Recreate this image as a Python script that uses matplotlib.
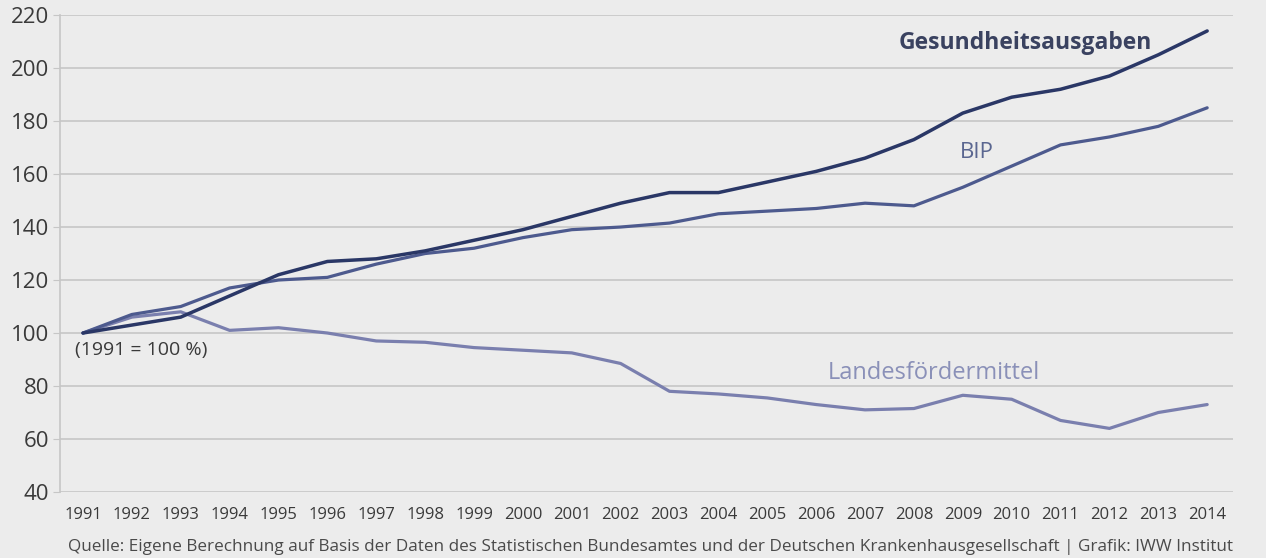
import matplotlib
matplotlib.use('Agg')
import matplotlib.pyplot as plt

years = list(range(1991, 2015))

# index values, 1991 = 100
gesundheit = [100, 103, 106, 114, 122, 127, 128, 131, 135, 139, 144, 149,
              153, 153, 157, 161, 166, 173, 183, 189, 192, 197, 205, 214]
bip = [100, 107, 110, 117, 120, 121, 126, 130, 132, 136, 139, 140,
       141.5, 145, 146, 147, 149, 148, 155, 163, 171, 174, 178, 185]
landes = [100, 106, 108, 101, 102, 100, 97, 96.5, 94.5, 93.5, 92.5, 88.5,
          78, 77, 75.5, 73, 71, 71.5, 76.5, 75, 67, 64, 70, 73]

y_ticks = [40, 60, 80, 100, 120, 140, 160, 180, 200, 220]

plt.rcParams['font.family'] = ['Open Sans', 'DejaVu Sans']

bg = '#ececec'
fig = plt.figure(figsize=(12.66, 5.58), dpi=100, facecolor=bg)
ax = fig.add_axes([0.0474, 0.1183, 0.9266, 0.8547])
ax.set_facecolor(bg)

ax.plot(years, landes, color='#7a7fae', linewidth=2.3, solid_capstyle='round', zorder=3)
ax.plot(years, bip, color='#4d5a8e', linewidth=2.3, solid_capstyle='round', zorder=4)
ax.plot(years, gesundheit, color='#2a3766', linewidth=2.5, solid_capstyle='round', zorder=5)

ax.set_xlim(1990.53, 2014.53)
ax.set_ylim(40, 220)
ax.set_yticks(y_ticks)
ax.set_xticks(years)
ax.set_xticklabels([str(y) for y in years])
ax.grid(axis='y', color='#c6c6c6', linewidth=1.2, zorder=0)
ax.set_axisbelow(True)

for s in ['top', 'right', 'bottom']:
    ax.spines[s].set_visible(False)
ax.spines['left'].set_color('#c6c6c6')
ax.spines['left'].set_linewidth(1.2)

ax.tick_params(axis='y', length=5, color='#c6c6c6', labelsize=16, labelcolor='#3a3a3a', pad=3)
ax.tick_params(axis='x', length=0, labelsize=12, labelcolor='#3a3a3a', pad=11)

# series labels placed next to their lines
ax.text(2007.68, 209.5, 'Gesundheitsausgaben', fontsize=16.5, fontweight='bold',
        color='#3a4260', ha='left', va='center')
ax.text(2008.95, 168.3, 'BIP', fontsize=16, color='#5a6690', ha='left', va='center')
ax.text(2006.24, 85, 'Landesfördermittel', fontsize=17, color='#8a90b8',
        ha='left', va='center')
ax.text(1990.84, 93.5, '(1991 = 100 %)', fontsize=14, color='#3a3a3a',
        ha='left', va='center')

fig.text(0.514, 0.005, 'Quelle: Eigene Berechnung auf Basis der Daten des Statistischen '
         'Bundesamtes und der Deutschen Krankenhausgesellschaft | Grafik: IWW Institut',
         fontsize=12.3, color='#4a4a4a', ha='center', va='bottom')

fig.savefig('out.png', dpi=100, facecolor=bg)
